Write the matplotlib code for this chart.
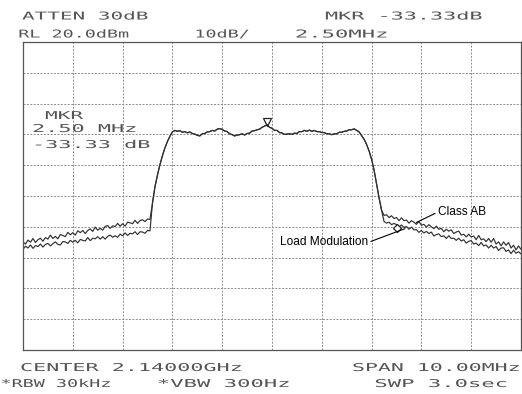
import numpy as np
import matplotlib
matplotlib.use("Agg")
import matplotlib.pyplot as plt
from matplotlib.patheffects import AbstractPathEffect
from matplotlib.transforms import Affine2D

# ---------------- data ----------------
# sweep: 2.14 GHz centre, 10 MHz span -> offsets in MHz
center_ghz = 2.14
span_mhz = 10.0
ref_level_dbm = 20.0
db_per_div = 10.0

# lower adjacent band, -5.00 .. -2.45 MHz (52 points)
class_ab_low = [-44.9, -45.6, -44.3, -45.0, -43.8, -45.1, -44.2, -43.7, -44.7, -43.5,
                -44.0, -42.7, -43.8, -43.1, -43.9, -42.5, -42.8, -43.2, -41.8, -42.6,
                -41.9, -42.7, -41.3, -41.9, -41.2, -42.2, -41.2, -40.7, -41.5, -40.1,
                -41.1, -40.5, -41.1, -39.9, -39.6, -40.5, -39.7, -39.9, -38.9, -39.8,
                -39.0, -39.8, -38.5, -38.7, -39.0, -37.9, -38.9, -38.0, -37.7, -38.3,
                -37.5, -37.6]
load_mod_low = [-47.3, -46.3, -46.9, -45.9, -47.0, -46.1, -46.4, -45.6, -46.6, -45.7,
                -45.4, -46.2, -45.5, -44.9, -45.7, -45.9, -44.8, -44.9, -45.4, -44.4,
                -45.0, -44.4, -45.2, -44.1, -44.4, -44.6, -43.5, -44.5, -43.7, -43.9,
                -43.2, -44.0, -43.2, -44.0, -43.1, -42.7, -43.4, -42.9, -43.4, -42.4,
                -42.9, -42.0, -42.8, -42.1, -42.3, -41.6, -42.5, -41.6, -41.7, -42.1,
                -41.2, -41.3]

# in-band part, -2.40 .. 2.20 MHz (93 points, both traces coincide)
in_band = [-32.3, -27.0, -23.2, -19.8, -16.9, -14.4, -12.3, -10.6, -9.2,
           -8.7, -9.0, -8.8, -9.3, -9.1, -9.5, -9.2, -9.7, -9.9, -10.3,
           -10.5, -9.8, -9.7, -9.2, -9.1, -8.7, -8.9, -8.3, -8.1, -8.4,
           -8.9, -9.1, -9.8, -10.1, -10.5, -10.2, -10.1, -9.8, -10.2, -9.7,
           -9.6, -8.9, -8.8, -8.5, -8.3, -7.7, -7.3, -6.9, -7.7, -8.0,
           -8.7, -8.7, -9.4, -9.5, -10.0, -9.9, -9.8, -10.0, -9.6, -9.7,
           -9.1, -9.1, -8.7, -9.0, -8.6, -9.0, -8.7, -9.1, -9.1, -9.4,
           -9.4, -9.8, -9.8, -10.1, -9.8, -9.8, -9.3, -9.3, -9.0, -8.9,
           -8.5, -8.5, -8.2, -8.7, -9.2, -10.4, -11.6, -13.3, -15.4, -18.1,
           -21.6, -26.1, -30.6, -34.6]

# upper adjacent band, 2.25 .. 5.00 MHz (56 points)
class_ab_high = [-36.3, -36.1, -37.0, -36.4, -37.3, -37.0, -38.0, -37.1, -38.0, -37.8,
                 -38.8, -38.0, -38.5, -39.2, -38.3, -39.5, -39.2, -40.1, -39.3, -40.0,
                 -40.6, -39.8, -40.8, -40.5, -41.6, -40.8, -41.4, -41.0, -42.2, -41.7,
                 -41.4, -42.7, -42.4, -43.3, -42.4, -43.3, -43.0, -44.2, -42.8, -44.2,
                 -43.9, -44.8, -43.8, -45.0, -43.8, -45.6, -44.9, -46.2, -44.9, -46.0,
                 -45.1, -46.9, -46.0, -47.5, -46.2, -47.3]
load_mod_high = [-38.3, -38.8, -38.5, -39.3, -38.9, -39.3, -40.1, -39.4, -40.2, -39.9,
                 -40.8, -40.1, -41.0, -40.9, -41.8, -41.2, -42.0, -41.5, -42.2, -41.7,
                 -43.0, -42.5, -42.3, -43.2, -42.9, -43.8, -42.9, -43.8, -43.7, -44.4,
                 -43.7, -44.6, -44.2, -45.3, -44.7, -44.5, -45.6, -45.3, -46.1, -45.1,
                 -46.2, -45.9, -46.9, -46.0, -46.9, -46.4, -47.7, -46.9, -46.8, -48.0,
                 -47.5, -48.7, -47.6, -48.6, -48.1, -48.8]

class_ab = class_ab_low + in_band + class_ab_high
load_mod = load_mod_low + in_band + load_mod_high
freq_mhz = np.linspace(-span_mhz / 2, span_mhz / 2, len(class_ab))

ref_marker_freq = -0.10
delta_marker_freq = 2.50
delta_marker_db = -33.33

header_texts = ["ATTEN 30dB", "MKR -33.33dB", "RL 20.0dBm", "10dB/", "2.50MHz"]
footer_texts = ["CENTER 2.14000GHz", "SPAN 10.00MHz", "*RBW 30kHz", "*VBW 300Hz", "SWP 3.0sec"]
marker_texts = ["MKR", "2.50 MHz", "-33.33 dB"]
series_labels = ["Class AB", "Load Modulation"]

# ---------------- figure ----------------
W, H = 522, 394
fig = plt.figure(figsize=(W / 100, H / 100), dpi=100)
fig.patch.set_facecolor("white")
ax = fig.add_axes([23 / W, (H - 350) / H, (521 - 23) / W, (350 - 42) / H])

bottom = ref_level_dbm - 10 * db_per_div
ax.set_xlim(-span_mhz / 2, span_mhz / 2)
ax.set_ylim(bottom, ref_level_dbm)
ax.set_xticks(np.linspace(-span_mhz / 2, span_mhz / 2, 11))
ax.set_yticks(np.linspace(bottom, ref_level_dbm, 11))
ax.tick_params(length=0, labelbottom=False, labelleft=False)
ax.grid(True, color="#8c8c8c", lw=0.7, ls=(0, (2.0, 1.5)))
for s in ax.spines.values():
    s.set_color("#555555")
    s.set_linewidth(0.9)

trace_col = "#303030"
ax.plot(freq_mhz, load_mod, color=trace_col, lw=0.85)
ax.plot(freq_mhz, class_ab, color=trace_col, lw=0.85)

ref_level = np.interp(ref_marker_freq, freq_mhz, class_ab)
ax.plot([ref_marker_freq], [ref_level + 0.8], marker="v", ms=6, mfc="none",
        mec="#222222", mew=0.9, ls="none")
ax.plot([delta_marker_freq], [ref_level + delta_marker_db], marker="D", ms=4,
        mfc="white", mec="#222222", mew=0.9, ls="none")

ann_font = dict(family=["Liberation Sans", "DejaVu Sans"], size=8.6, color="black")
ax.annotate(series_labels[0], xy=(2.90, -38.6), xytext=(3.33, -35.2),
            ha="left", va="center", **ann_font,
            arrowprops=dict(arrowstyle="-", lw=0.8, color="black",
                            shrinkA=0, shrinkB=0, relpos=(0, 0.5)))
ax.annotate(series_labels[1], xy=(2.67, -40.6), xytext=(1.93, -44.9),
            ha="right", va="center", **ann_font,
            arrowprops=dict(arrowstyle="-", lw=0.8, color="black",
                            shrinkA=0, shrinkB=0, relpos=(1, 0.45)))


# ---------------- analyzer-style wide text ----------------
class HStretch(AbstractPathEffect):
    def __init__(self, sx):
        super().__init__((0, 0))
        self.sx = sx

    def draw_path(self, renderer, gc, tpath, affine, rgbFace=None):
        renderer.draw_path(gc, tpath, Affine2D().scale(self.sx, 1.0) + affine, rgbFace)


# (x_start_px, x_end_px, y_center_px)
header_pos = [(22, 148, 16.5), (325, 482, 16.5), (22, 125, 34.5), (197, 247, 34.5), (280, 403, 34.5)]
footer_pos = [(20, 242, 368), (352, 520, 368), (1, 100, 384), (140, 307, 384), (372, 510, 384)]
marker_pos = [(45, 83, 116), (32, 137, 129), (32, 150, 145)]

an_texts = []
for strings, poss in ((header_texts, header_pos), (footer_texts, footer_pos),
                      (marker_texts, marker_pos)):
    for s, (x0, x1, yc) in zip(strings, poss):
        t = fig.text(x0 / W, 1 - yc / H, s, ha="left", va="center",
                     family="DejaVu Sans Mono", size=7.8, color="#555555")
        an_texts.append((t, x0, x1))

fig.canvas.draw()
r = fig.canvas.get_renderer()
for t, x0, x1 in an_texts:
    w = t.get_window_extent(r).width
    sx = float(np.clip((x1 - x0) / w, 1.7, 2.05))
    new_w = sx * w
    start = 0.5 * (x0 + x1) - 0.5 * new_w
    start = max(start, 0.5)
    t.set_x(start / W)
    t.set_path_effects([HStretch(sx)])

fig.savefig("out.png", dpi=100, facecolor="white")
